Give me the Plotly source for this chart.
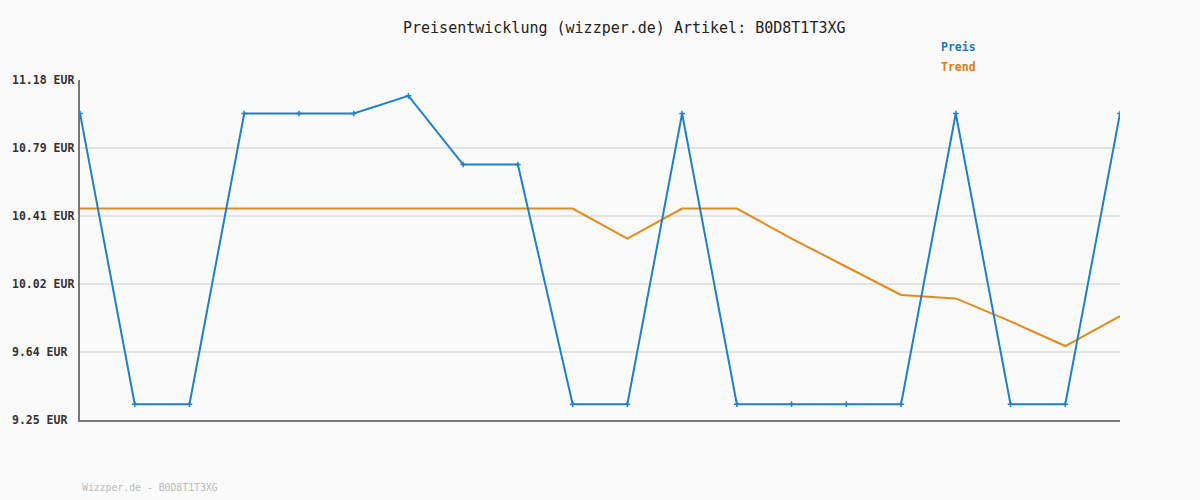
import plotly.graph_objects as go

# ---- data ----
x_index = list(range(20))
preis = [10.99, 9.34, 9.34, 10.99, 10.99, 10.99, 11.09, 10.70, 10.70, 9.34,
         9.34, 10.99, 9.34, 9.34, 9.34, 9.34, 10.99, 9.34, 9.34, 10.99]
trend = [10.45, 10.45, 10.45, 10.45, 10.45, 10.45, 10.45, 10.45, 10.45, 10.45,
         10.28, 10.45, 10.45, 10.28, 10.12, 9.96, 9.94, 9.81, 9.67, 9.84]
tick_vals = [9.25, 9.636, 10.022, 10.408, 10.794, 11.18]
tick_text = ["9.25 EUR", "9.64 EUR", "10.02 EUR", "10.41 EUR", "10.79 EUR", "11.18 EUR"]
title_text = "Preisentwicklung (wizzper.de) Artikel: B0D8T1T3XG"
footer_text = "Wizzper.de - B0D8T1T3XG"
legend_names = ["Preis", "Trend"]

BLUE = "#1f80c8"
ORANGE = "#e5891e"
MONO = "DejaVu Sans Mono"

W, H, L, R, T, B = 1200, 500, 80, 80, 80, 80
pw, ph = W - L - R, H - T - B


def px_x(px):
    return (px - L) / pw


def px_y(py):
    return 1 - (py - T) / ph


fig = go.Figure()
fig.add_trace(go.Scatter(
    x=x_index, y=trend, mode="lines", name=legend_names[1],
    line=dict(color=ORANGE, width=2), hoverinfo="skip"))
fig.add_trace(go.Scatter(
    x=x_index, y=preis, mode="lines+markers", name=legend_names[0],
    line=dict(color=BLUE, width=2),
    marker=dict(symbol="cross-thin", size=4, line=dict(color=BLUE, width=1.5))))

annotations = []
for v, t in zip(tick_vals, tick_text):
    annotations.append(dict(x=px_x(10), xref="paper", y=v, yref="y", text="<b>%s</b>" % t,
                            showarrow=False, xanchor="left", yanchor="middle",
                            font=dict(family=MONO, size=11.5, color="#333333")))

annotations.append(dict(x=px_x(624), y=px_y(28), xref="paper", yref="paper",
                        text=title_text, showarrow=False, xanchor="center", yanchor="middle",
                        font=dict(family=MONO, size=15, color="#222222")))
annotations.append(dict(x=px_x(939), y=px_y(47), xref="paper", yref="paper",
                        text="<b>%s</b>" % legend_names[0], showarrow=False,
                        xanchor="left", yanchor="middle",
                        font=dict(family=MONO, size=11.5, color="#1a78c2")))
annotations.append(dict(x=px_x(939), y=px_y(67), xref="paper", yref="paper",
                        text="<b>%s</b>" % legend_names[1], showarrow=False,
                        xanchor="left", yanchor="middle",
                        font=dict(family=MONO, size=11.5, color="#dd7a0a")))
annotations.append(dict(x=px_x(80), y=px_y(487), xref="paper", yref="paper",
                        text=footer_text, showarrow=False, xanchor="left", yanchor="middle",
                        font=dict(family=MONO, size=9.8, color="#bbbbbb")))

fig.update_layout(
    width=W, height=H,
    margin=dict(l=L, r=R, t=T, b=B),
    paper_bgcolor="#fafafa", plot_bgcolor="#fafafa",
    showlegend=False,
    hovermode=False,
    annotations=annotations,
    xaxis=dict(range=[0, 19], showgrid=False, zeroline=False, showticklabels=False,
               showline=True, linecolor="#777777", linewidth=2, ticks=""),
    yaxis=dict(range=[9.25, 11.18], tickvals=tick_vals, showticklabels=False,
               showgrid=True, gridcolor="#e3e3e3", gridwidth=2, zeroline=False,
               showline=True, linecolor="#777777", linewidth=2, ticks=""),
)

fig.write_html("out.html", config={"displayModeBar": False},
               post_script="document.body.style.margin='0';document.body.style.overflow='hidden';")
